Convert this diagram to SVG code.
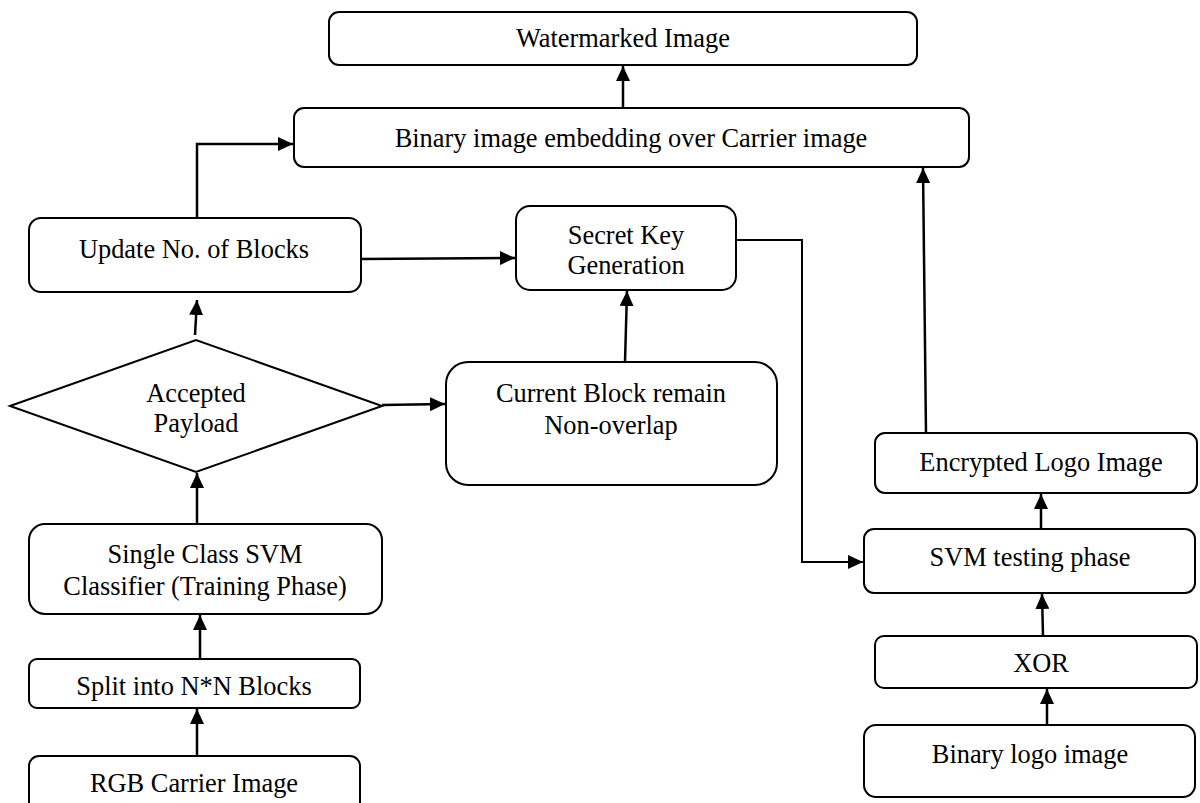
<svg xmlns="http://www.w3.org/2000/svg" width="1200" height="803" viewBox="0 0 1200 803">
<style>
.box{fill:#fff;stroke:#000;stroke-width:2}
.t{font-family:"Liberation Serif","Times New Roman",serif;font-size:26.4px;fill:#000;text-anchor:middle}
.c{fill:none;stroke:#000;stroke-width:2.5}
.c2{fill:none;stroke:#000;stroke-width:2}
</style>
<defs>
<marker id="ah" markerUnits="userSpaceOnUse" markerWidth="16" markerHeight="14" refX="15" refY="7" orient="auto">
<path d="M0,0 L15,7 L0,14 Z" fill="#000"/>
</marker>
</defs>
<rect width="1200" height="803" fill="#fff"/>
<g id="connectors">
<line class="c" x1="623" y1="108" x2="623" y2="66" marker-end="url(#ah)"/>
<polyline class="c" points="197,218 197,144 293,144" marker-end="url(#ah)"/>
<line class="c" x1="361" y1="259" x2="515" y2="258" marker-end="url(#ah)"/>
<polyline class="c2" points="737,240 802,240 802,562 863,562" marker-end="url(#ah)"/>
<line class="c" x1="625" y1="362" x2="627" y2="291" marker-end="url(#ah)"/>
<line class="c" x1="195" y1="335" x2="197" y2="300" marker-end="url(#ah)"/>
<line class="c" x1="382" y1="405" x2="445" y2="404" marker-end="url(#ah)"/>
<line class="c" x1="197" y1="524" x2="197" y2="473" marker-end="url(#ah)"/>
<line class="c" x1="200" y1="659" x2="200" y2="615" marker-end="url(#ah)"/>
<line class="c" x1="197" y1="756" x2="197" y2="709" marker-end="url(#ah)"/>
<line class="c" x1="926" y1="433" x2="923" y2="168" marker-end="url(#ah)"/>
<line class="c" x1="1041" y1="529" x2="1041" y2="494" marker-end="url(#ah)"/>
<line class="c" x1="1043" y1="636" x2="1042" y2="594" marker-end="url(#ah)"/>
<line class="c" x1="1047" y1="725" x2="1047" y2="689" marker-end="url(#ah)"/>
</g>
<g id="watermarked">
<rect class="box" x="329" y="12" width="588" height="53" rx="10"/>
<text class="t" x="623" y="47">Watermarked Image</text>
</g>
<g id="embedding">
<rect class="box" x="294" y="108" width="675" height="59" rx="10"/>
<text class="t" x="631" y="147">Binary image embedding over Carrier image</text>
</g>
<g id="update">
<rect class="box" x="29" y="218" width="332" height="74" rx="12"/>
<text class="t" x="194" y="258">Update No. of Blocks</text>
</g>
<g id="secretkey">
<rect class="box" x="516" y="206" width="220" height="84" rx="14"/>
<text class="t" x="626" y="244">Secret Key</text>
<text class="t" x="626" y="274">Generation</text>
</g>
<g id="accepted">
<polygon class="box" points="10,406 196,340 382,406 196,472"/>
<text class="t" x="196" y="402">Accepted</text>
<text class="t" x="196" y="432">Payload</text>
</g>
<g id="currentblock">
<rect class="box" x="446" y="362" width="331" height="123" rx="22"/>
<text class="t" x="611" y="402">Current Block remain</text>
<text class="t" x="611" y="434">Non-overlap</text>
</g>
<g id="svmclassifier">
<rect class="box" x="29" y="524" width="353" height="90" rx="16"/>
<text class="t" x="205" y="563">Single Class SVM</text>
<text class="t" x="205" y="595">Classifier (Training Phase)</text>
</g>
<g id="split">
<rect class="box" x="29" y="659" width="331" height="49" rx="8"/>
<text class="t" x="194" y="695">Split into N*N Blocks</text>
</g>
<g id="rgb">
<rect class="box" x="29" y="756" width="331" height="60" rx="10"/>
<text class="t" x="194" y="792">RGB Carrier Image</text>
</g>
<g id="encrypted">
<rect class="box" x="875" y="433" width="322" height="60" rx="10"/>
<text class="t" x="1041" y="471">Encrypted Logo Image</text>
</g>
<g id="svmtesting">
<rect class="box" x="864" y="529" width="331" height="64" rx="10"/>
<text class="t" x="1030" y="566">SVM testing phase</text>
</g>
<g id="xor">
<rect class="box" x="875" y="636" width="322" height="52" rx="9"/>
<text class="t" x="1041" y="672">XOR</text>
</g>
<g id="binarylogo">
<rect class="box" x="864" y="725" width="331" height="72" rx="12"/>
<text class="t" x="1030" y="763">Binary logo image</text>
</g>
</svg>
